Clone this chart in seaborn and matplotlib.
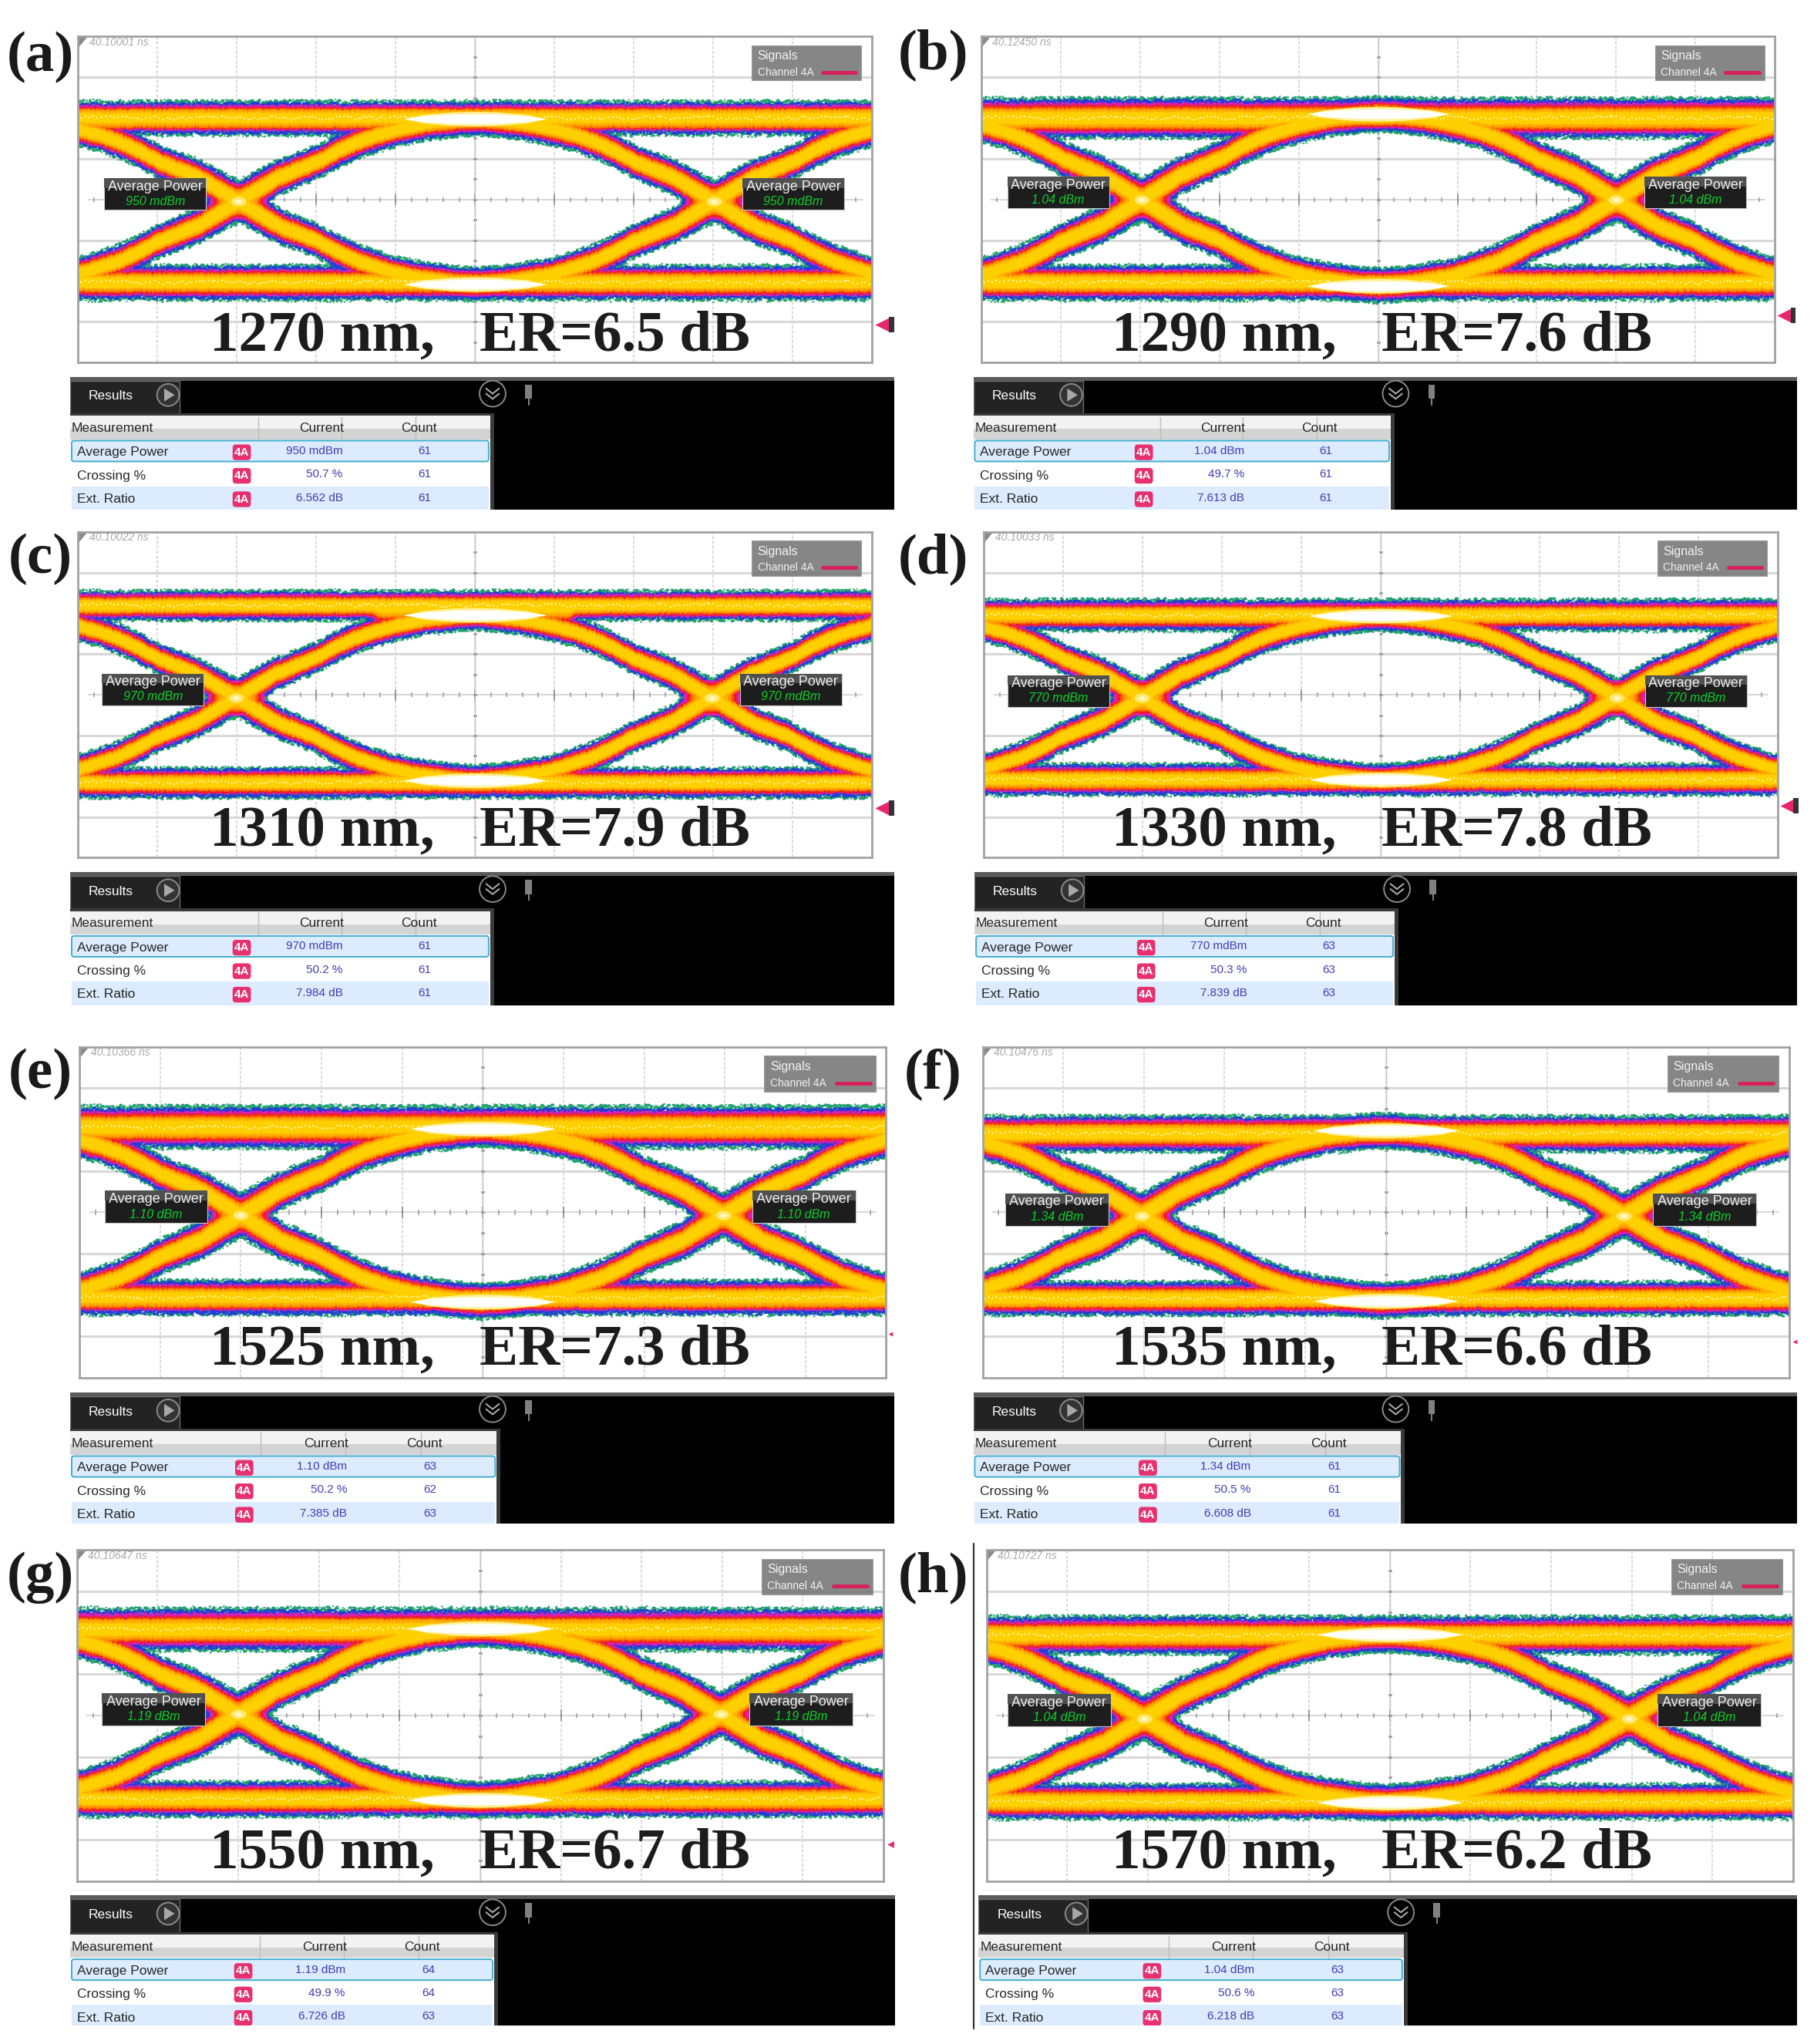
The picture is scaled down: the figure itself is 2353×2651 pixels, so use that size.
#!/bin/env python3
import matplotlib
matplotlib.use("Agg")
import matplotlib.pyplot as plt
from matplotlib.patches import Rectangle, FancyBboxPatch, Circle, Polygon
from matplotlib.path import Path
from matplotlib.transforms import Affine2D
import numpy as np
import pandas as pd
import seaborn as sns

sns.set_style("white")
plt.rcParams['font.family'] = ['Liberation Sans', 'DejaVu Sans']

#-----------------------------------------------------------------------
# Values
#-----------------------------------------------------------------------
panel_tags = ['(a)', '(b)', '(c)', '(d)', '(e)', '(f)', '(g)', '(h)']
wavelengths = [1270, 1290, 1310, 1330, 1525, 1535, 1550, 1570]
ext_ratio_title = [6.5, 7.6, 7.9, 7.8, 7.3, 6.6, 6.7, 6.2]
time_labels = ['40.10001 ns', '40.12450 ns', '40.10022 ns', '40.10033 ns',
               '40.10366 ns', '40.10476 ns', '40.10647 ns', '40.10727 ns']
avg_power = ['950 mdBm', '1.04 dBm', '970 mdBm', '770 mdBm',
             '1.10 dBm', '1.34 dBm', '1.19 dBm', '1.04 dBm']
crossing_pct = ['50.7 %', '49.7 %', '50.2 %', '50.3 %',
                '50.2 %', '50.5 %', '49.9 %', '50.6 %']
ext_ratio = ['6.562 dB', '7.613 dB', '7.984 dB', '7.839 dB',
             '7.385 dB', '6.608 dB', '6.726 dB', '6.218 dB']
count_power = [61, 61, 61, 63, 63, 61, 64, 63]
count_cross = [61, 61, 61, 63, 62, 61, 64, 63]
count_ratio = [61, 61, 61, 63, 63, 61, 63, 63]

# eye levels, in graticule divisions from the top of the screen
top_rail = [1.00, 1.00, 0.905, 1.02, 0.97, 1.05, 0.96, 1.03]
bottom_rail = [3.02, 3.02, 3.08, 3.04, 3.03, 3.04, 3.01, 3.04]
top_half = [0.20, 0.24, 0.17, 0.18, 0.25, 0.21, 0.25, 0.22]
bottom_half = [0.20, 0.20, 0.17, 0.18, 0.20, 0.19, 0.20, 0.20]
eye_top = [1.20, 1.15, 1.19, 1.20, 1.19, 1.21, 1.15, 1.22]
eye_bottom = [2.85, 2.86, 2.88, 2.87, 2.88, 2.87, 2.82, 2.85]
cross_level = [2.00, 1.98, 2.00, 2.02, 2.00, 2.03, 1.99, 2.00]
cross_left = [2.02, 2.02, 1.99, 1.99, 2.00, 1.97, 2.00, 1.95]
cross_right = [8.01, 8.00, 7.98, 7.97, 7.98, 7.95, 7.98, 7.96]
trace_half = [0.19, 0.20, 0.17, 0.17, 0.20, 0.20, 0.20, 0.20]

# edge of a transition, x in divisions from the crossing, level 0 low, 1 high
edge_offset = [-3, -2.75, -2.5, -2.25, -2, -1.75, -1.5, -1.25, -1, -0.5,
               0, 0.5, 1, 1.25, 1.5, 1.75, 2, 2.25, 2.5, 2.75, 3]
edge_level = [0, 0.008, 0.022, 0.04, 0.065, 0.10, 0.14, 0.195, 0.26, 0.355,
              0.5, 0.645, 0.74, 0.805, 0.86, 0.90, 0.935, 0.96, 0.978, 0.992, 1]
# thickness of the trace along the same offsets, relative to trace_half
edge_half = [1, 1, 1, 1, 1, 1, 1, 1, 1, 1.08, 1.28, 1.08, 1, 1, 1, 1, 1, 1, 1, 1, 1]
# white hot spot on the rails
hot_x = [4.1, 4.35, 4.7, 5.0, 5.3, 5.65, 5.9]
hot_half = [0.0, 0.035, 0.055, 0.06, 0.055, 0.035, 0.0]

#-----------------------------------------------------------------------
# Layout, in pixels of the 1392 wide view
#-----------------------------------------------------------------------
screen_box = [(60, 28, 669, 278), (753, 28, 1362, 278),
              (60, 408, 669, 658), (755, 408, 1364, 658),
              (61, 803, 680, 1057), (754, 803, 1373, 1057),
              (59, 1189, 678, 1443), (757, 1189, 1376, 1443)]
result_box = [(54, 289, 686, 391), (747, 289, 1379, 391),
              (54, 669, 686, 771), (748, 669, 1379, 771),
              (54, 1068, 686, 1169), (747, 1068, 1379, 1169),
              (54, 1454, 687, 1554), (751, 1454, 1379, 1554)]
table_width = [322, 320, 322, 322, 327, 328, 325, 326]
tag_pos = [(31, 44), (716, 42), (31, 429), (716, 429),
           (31, 824), (716, 824), (31, 1210), (716, 1210)]
title_pos = [(368, 258), (1060, 258), (368, 638), (1060, 638),
             (368, 1036), (1060, 1036), (368, 1422), (1060, 1422)]
trig_pos = [(677, 249), (1369, 242), (677, 620), (1371, 618),
            (683, 1023), (1377, 1029), (683, 1415)]
trig_size = [170, 170, 170, 170, 18, 18, 40]

W, H = 1392.0, 1568.0
PT = 0.72 * 2353 / 1392  # one view pixel, in points at dpi 100
BLOB = Path.unit_circle().transformed(Affine2D().scale(1, 0.62))

# heat colours of the persistence display, outside to inside
#  colour, fraction of the half thickness, filled, edge width, edge dashes, edge wobble
layers = [('#46b48c', 1.00, False, 1.3, (0, (1.2, 3.4)), (3.0, 5, 3)),
          ('#22a070', 0.91, False, 2.2, (0, (1.8, 1.6)), (2.8, 5, 3)),
          ('#2440d4', 0.82, False, 1.9, (0, (2.0, 1.4)), (2.4, 5, 3)),
          ('#2b35dc', 0.73, True, 1.5, (0, (2.5, 1.0)), (2.0, 5, 3)),
          ('#de1fb0', 0.67, True, 1.5, (0, (3.0, 0.8)), (1.8, 5, 3)),
          ('#ee1c25', 0.58, True, 1.2, (0, (3.0, 0.6)), (1.6, 5, 3)),
          ('#fb5a00', 0.51, True, 1.1, (0, (3.0, 0.6)), (1.4, 5, 3)),
          ('#ff9000', 0.45, True, 1.0, (0, (3.0, 0.6)), (1.2, 5, 3)),
          ('#ffb000', 0.37, True, 0.9, '-', (1.2, 5, 3)),
          ('#ffd000', 0.25, True, 0.9, '-', (1.2, 5, 3))]


def screen_axes(fig, box):
    x0, y0, x1, y1 = box
    return fig.add_axes([x0 / W, 1 - y1 / H, (x1 - x0) / W, (y1 - y0) / H])


def eye_curves(i):
    # every curve as x, centre, upper half thickness, lower half thickness
    hi = eye_top[i] - trace_half[i]
    lo = eye_bottom[i] + trace_half[i]
    curves = {}
    for j, cx in enumerate([cross_left[i], cross_right[i]]):
        xs = np.array(edge_offset) + cx
        lev = np.array(edge_level)
        half = np.array(edge_half) * trace_half[i]
        curves['r%d' % j] = (xs, lo + (hi - lo) * lev, half, half)
        curves['f%d' % j] = (xs, hi + (lo - hi) * lev, half, half)
    # over the eye the rails reach down to the arc of the traces
    a, b = cross_left[i] + 1.75, cross_right[i] - 1.75
    rx = np.array([-0.5, a - 0.05, a + 0.05, b - 0.05, b + 0.05, 10.5])
    th, bh = top_half[i], bottom_half[i]
    tc = eye_top[i] - top_rail[i]
    bc = bottom_rail[i] - eye_bottom[i]
    curves['t'] = (rx, np.full(6, top_rail[i]), np.full(6, th),
                   np.array([th, th, tc, tc, th, th]))
    curves['b'] = (rx, np.full(6, bottom_rail[i]),
                   np.array([bh, bh, bc, bc, bh, bh]), np.full(6, bh))
    return curves


def band_frame(curves, frac):
    rows = []
    for name, (xs, mid, up, down) in curves.items():
        rows.append(pd.DataFrame({'trace': name, 'x': xs, 'y': mid - up * frac}))
        rows.append(pd.DataFrame({'trace': name, 'x': xs, 'y': mid + down * frac}))
    return pd.concat(rows, ignore_index=True)


def edge_frame(curves, frac):
    rows = []
    for name, (xs, mid, up, down) in curves.items():
        rows.append(pd.DataFrame({'trace': name + 'u', 'x': xs, 'y': mid - up * frac}))
        rows.append(pd.DataFrame({'trace': name + 'd', 'x': xs, 'y': mid + down * frac}))
    return pd.concat(rows, ignore_index=True)


def draw_band(ax, df, color, z):
    names = df['trace'].unique()
    sns.lineplot(data=df, x='x', y='y', hue='trace', palette={n: color for n in names},
                 estimator='mean', errorbar=('pi', 100),
                 err_kws={'alpha': 1, 'linewidth': 0, 'zorder': z},
                 lw=0, legend=False, ax=ax)


def draw_screen(ax, i):
    ax.set_facecolor('white')
    # graticule
    for gx in range(1, 10):
        ax.axvline(gx, color='#dcdcdc', lw=1.5, ls=(0, (2, 1)), zorder=1)
    for gy in [0.5, 1.5, 2.5, 3.5]:
        ax.axhline(gy, color='#d8d8d8', lw=2.2, zorder=1)
    ax.hlines(2, 0.12, 9.88, color='#cfcfcf', lw=1.2, zorder=1)
    ticks = np.arange(0.2, 10, 0.2)
    ax.vlines(ticks, 1.97, 2.03, color='#9a9a9a', lw=1.1, zorder=1)
    ax.vlines(np.arange(1, 10), 1.93, 2.07, color='#8a8a8a', lw=1.1, zorder=1)
    ax.hlines(np.arange(0.25, 4, 0.25), 4.98, 5.02, color='#777777', lw=2, zorder=1)
    ax.axvline(5, color='#c4c4c4', lw=1, zorder=1)

    curves = eye_curves(i)
    hi = eye_top[i] - trace_half[i]
    lo = eye_bottom[i] + trace_half[i]
    mid = (hi + lo) / 2
    cross_x = [cross_left[i], cross_right[i]]
    z = 2.0
    for color, frac, filled, lw, dash, wobble in layers:
        z += 0.1
        if filled:
            draw_band(ax, band_frame(curves, frac), color, z)
        with plt.rc_context({'path.sketch': wobble, 'lines.scale_dashes': False}):
            sns.lineplot(data=edge_frame(curves, frac), x='x', y='y', units='trace', estimator=None,
                         sort=False, color=color, lw=lw * PT * 1.5, ls=dash, legend=False, ax=ax, zorder=z)
        if filled and frac < 0.7:
            # the two transitions melt together around the crossing
            sns.scatterplot(x=cross_x, y=[mid, mid], color=color, marker=BLOB,
                            s=(80 * frac) ** 2, linewidth=0, legend=False, ax=ax, zorder=z)

    # pale speckle down the middle of the rails
    spec = pd.DataFrame({'trace': ['t', 't', 'b', 'b'], 'x': [-0.5, 10.5, -0.5, 10.5],
                         'y': [top_rail[i]] * 2 + [bottom_rail[i]] * 2})
    with plt.rc_context({'path.sketch': (2.5, 6, 3), 'lines.scale_dashes': False}):
        sns.lineplot(data=spec, x='x', y='y', units='trace', estimator=None, sort=False,
                     color='#fff7a8', lw=1.4, ls=(0, (1.5, 5.5)), legend=False, ax=ax, zorder=3.2)

    # white hot spots where the traces pile up
    hx = np.array(hot_x)
    hh = np.array(hot_half)
    for centre in [hi, lo]:
        spot = pd.DataFrame({'trace': 's', 'x': np.r_[hx, hx], 'y': np.r_[centre - hh, centre + hh]})
        pale = pd.DataFrame({'trace': 's', 'x': np.r_[hx, hx], 'y': np.r_[centre - hh * 1.5, centre + hh * 1.5]})
        draw_band(ax, pale, '#fff29a', 3.3)
        draw_band(ax, spot, 'white', 3.4)
    sns.scatterplot(x=cross_x, y=[mid, mid], color='#ffe870', marker=BLOB,
                    s=200, linewidth=0, legend=False, ax=ax, zorder=3.5)
    sns.scatterplot(x=cross_x, y=[mid, mid], color='#fff6c0', marker=BLOB,
                    s=40, linewidth=0, legend=False, ax=ax, zorder=3.6)

    # average power callouts
    box_top = cross_level[i] - 0.26
    for bx in [cross_left[i] - 1.69, cross_right[i] + 0.36]:
        ax.add_patch(Rectangle((bx, box_top), 1.28, 0.39, fc='#1d1d1d', ec='#c8c8c8', lw=0.8, zorder=6))
        ax.add_patch(Rectangle((bx, box_top), 1.28, 0.12, fc='#505050', ec='none', zorder=6))
        ax.text(bx + 0.64, box_top + 0.105, 'Average Power', color='#f0f0f0', fontsize=13,
                ha='center', va='center', zorder=7)
        ax.text(bx + 0.64, box_top + 0.285, avg_power[i], color='#0bd02a', fontsize=11.5, style='italic',
                ha='center', va='center', zorder=7)

    # signals box
    ax.add_patch(Rectangle((8.49, 0.11), 1.38, 0.43, fc='#7d7d7d', ec='#9a9a9a', lw=0.8, alpha=0.93, zorder=6))
    ax.text(8.56, 0.24, 'Signals', color='#f2f2f2', fontsize=11.5, va='center', zorder=7)
    ax.text(8.56, 0.44, 'Channel 4A', color='#f2f2f2', fontsize=10, va='center', zorder=7)
    ax.plot([9.38, 9.8], [0.44, 0.44], color='#d81f5c', lw=3.5, solid_capstyle='round', zorder=7)

    # time stamp
    ax.add_patch(Polygon([(0, 0), (0.12, 0), (0, 0.14)], fc='#8a8a8a', ec='none', zorder=6))
    ax.text(0.14, 0.07, time_labels[i], color='#a8a8a8', fontsize=10, style='italic', va='center', zorder=7)

    ax.set(xlim=(0, 10), ylim=(4, 0), xlabel='', ylabel='', xticks=[], yticks=[])
    for sp in ax.spines.values():
        sp.set_visible(True)
        sp.set_color('#a2a2a2')
        sp.set_linewidth(2.0)
        sp.set_zorder(8)


def draw_results(ax, i):
    x0, y0, x1, y1 = result_box[i]
    tw = table_width[i]
    sx = tw / 322.0
    ax.set_facecolor('black')
    ax.set(xlim=(0, x1 - x0), ylim=(y1 - y0, 0), xticks=[], yticks=[])
    for sp in ax.spines.values():
        sp.set_visible(False)
    bottom = y1 - y0
    ax.add_patch(Rectangle((0, 0), x1 - x0, 3, fc='#5a5a5a', ec='none'))
    ax.add_patch(Rectangle((0, 3), 84, 28, fc='#232323', ec='#6a6a6a', lw=1))
    ax.text(14, 15, 'Results', color='white', fontsize=12.5, va='center')
    ax.add_patch(Circle((75, 14), 8.5, fc='#333333', ec='#8a8a8a', lw=1.4))
    ax.add_patch(Polygon([(72, 9), (72, 19), (80, 14)], fc='#a8a8a8', ec='none'))
    ax.add_patch(Circle((324, 13), 10, fc='black', ec='#8a8a8a', lw=1.4))
    ax.plot([319, 324, 329], [9, 13, 9], color='#b0b0b0', lw=1.4)
    ax.plot([319, 324, 329], [13, 17, 13], color='#b0b0b0', lw=1.4)
    ax.add_patch(Rectangle((349, 6), 5, 11, fc='#808080', ec='none'))
    ax.add_patch(Rectangle((351, 17), 1.2, 5, fc='#808080', ec='none'))

    # table
    ax.add_patch(Rectangle((0, 28), tw + 3, bottom, fc='#3a3a3a', ec='none'))
    ax.add_patch(Rectangle((0, 30), tw, bottom, fc='white', ec='none'))
    ax.add_patch(Rectangle((0, 30), tw, 10, fc='#f2f2f2', ec='none'))
    ax.add_patch(Rectangle((0, 40), tw, 8, fc='#d4d4d4', ec='none'))
    for sep in [144, 208, 265]:
        ax.plot([sep * sx + 0, sep * sx + 0], [31, 48], color='#bcbcbc', lw=1)
    ax.add_patch(FancyBboxPatch((1, 49), tw - 2, 16, boxstyle='round,pad=0,rounding_size=2',
                                fc='#dcebfd', ec='#43aecf', lw=1.4))
    ax.add_patch(Rectangle((1, 84), tw - 2, bottom, fc='#dcebfd', ec='none'))
    ax.text(1, 39.5, 'Measurement', color='#262626', fontsize=12.5, va='center')
    ax.text(210 * sx, 39.5, 'Current', color='#262626', fontsize=12.5, ha='right', va='center')
    ax.text(281 * sx, 39.5, 'Count', color='#262626', fontsize=12.5, ha='right', va='center')
    names = ['Average Power', 'Crossing %', 'Ext. Ratio']
    currents = [avg_power[i], crossing_pct[i], ext_ratio[i]]
    counts = [count_power[i], count_cross[i], count_ratio[i]]
    for y, name, cur, cnt in zip([58, 76, 94], names, currents, counts):
        ax.text(5, y, name, color='#262626', fontsize=12.5, va='center')
        ax.add_patch(FancyBboxPatch((124.5 * sx, y - 6), 14, 12, boxstyle='round,pad=0,rounding_size=2.5',
                                    fc='#e8306e', ec='none'))
        ax.text(124.5 * sx + 7, y, '4A', color='white', fontsize=11, weight='bold', ha='center', va='center')
        ax.text(209 * sx, y - 1, cur, color='#3f3fb4', fontsize=11, ha='right', va='center')
        ax.text(272 * sx, y - 1, str(cnt), color='#3f3fb4', fontsize=11, ha='center', va='center')


#-----------------------------------------------------------------------
# Figure
#-----------------------------------------------------------------------
fig = plt.figure(figsize=(23.53, 26.51), dpi=100, facecolor='white')

for i in range(8):
    draw_screen(screen_axes(fig, screen_box[i]), i)
    draw_results(screen_axes(fig, result_box[i]), i)

top = fig.add_axes([0, 0, 1, 1], zorder=20)
top.patch.set_alpha(0)
top.set(xlim=(0, W), ylim=(H, 0))
top.axis('off')
for i in range(8):
    top.text(tag_pos[i][0], tag_pos[i][1], panel_tags[i], family=['Liberation Serif'], weight='bold',
             fontsize=54, color='#1a1a1a', ha='center', va='center')
    cx, cy = title_pos[i]
    top.text(cx - 207, cy, '%d nm,' % wavelengths[i], family=['Liberation Serif'], weight='bold',
             fontsize=54, color='#1c1c1c', ha='left', va='center')
    top.text(cx, cy, 'ER=%.1f dB' % ext_ratio_title[i], family=['Liberation Serif'], weight='bold',
             fontsize=54, color='#1c1c1c', ha='left', va='center')
for (tx, ty), ts in zip(trig_pos, trig_size):
    top.scatter([tx], [ty], marker='<', s=ts, color='#e8266e', linewidths=0)
    if ts > 100:
        top.add_patch(Rectangle((tx + 5, ty - 6), 4, 12, fc='#333333', ec='none'))
top.plot([747, 747], [1184, 1556], color='#333333', lw=1.6)

plt.savefig('out.png', dpi=100)
